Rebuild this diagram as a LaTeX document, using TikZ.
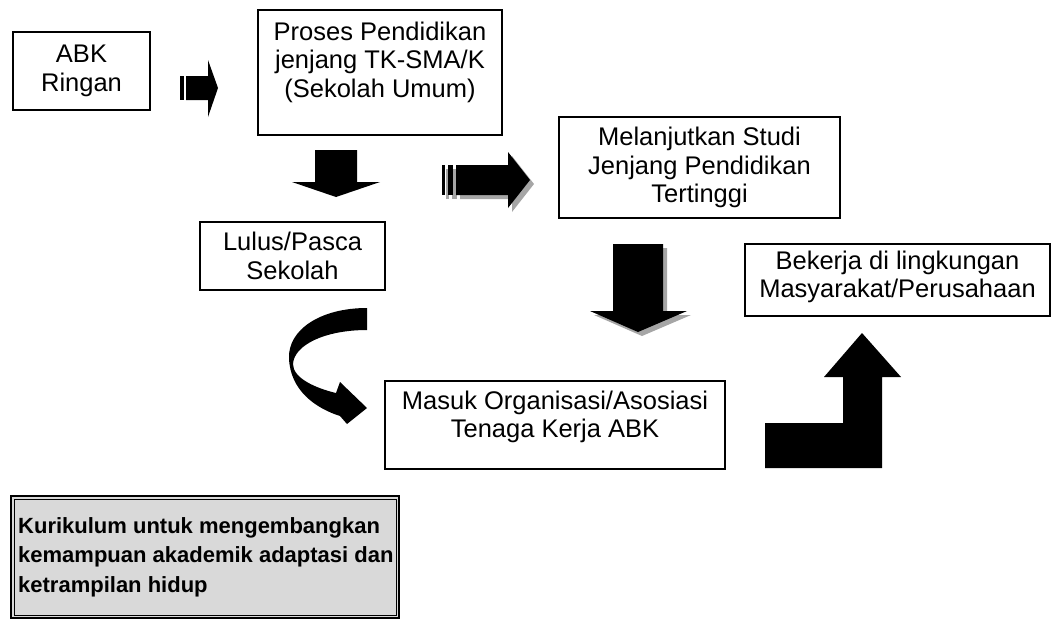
\documentclass[tikz,border=0pt]{standalone}
\usepackage{fontspec}
\setmainfont{Liberation Sans}
\tikzset{box/.style={draw, line width=1.3pt, align=center, inner sep=0pt,
                     font=\fontsize{25.5}{28.5}\selectfont}}
\tikzset{blk/.style={fill=black}}
\tikzset{shade/.style={fill=black!35}}

\begin{document}
\begin{tikzpicture}[x=1pt, y=-1pt,
      % styles for the bottom panel
      kurbox/.style ={draw, line width=2.4pt, fill=black!15, inner sep=0pt},
      kurtext/.style={align=left, inner sep=0pt,
                      font=\fontsize{22}{29.5}\selectfont\bfseries}
    ]
    \useasboundingbox (0,0) rectangle (1051,619);

    % boxes, placed at their centres
    \node[box, minimum width=137, minimum height=78]  (abk)    at (81.5,71)  {ABK\\Ringan};
    \node[box, minimum width=244, minimum height=125] (proses) at (380,72.5) {};
    \node[box, draw=none, anchor=north] (prosesTxt) at ([yshift=-12pt]proses.north)
      {Proses Pendidikan\\jenjang TK-SMA/K\\(Sekolah Umum)};
    \node[box, minimum width=281, minimum height=101] (lanjut) at (699.5,167.5)
      {Melanjutkan Studi\\Jenjang Pendidikan\\Tertinggi};
    \node[box, minimum width=185, minimum height=68]  (lulus)  at (292.5,256) {Lulus/Pasca\\Sekolah};
    \node[box, minimum width=305, minimum height=72]  (kerja)  at (897.5,280) {};
    \node[box, draw=none] (kerjaTxt) at ([yshift=3pt]kerja.center)
      {Bekerja di lingkungan\\Masyarakat/Perusahaan};
    \node[box, minimum width=340, minimum height=88]  (masuk)  at (555,425) {};
    \node[box, draw=none] (masukTxt) at ([yshift=8pt]masuk.center)
      {Masuk Organisasi/Asosiasi\\Tenaga Kerja ABK};

    % bottom panel with double frame
    \node[kurbox, minimum width=388, minimum height=122, anchor=north west] (kurikulum) at (10,495) {};
    \draw[line width=0.8pt] ([shift={(4,4)}]kurikulum.north west) rectangle ([shift={(-4,-4)}]kurikulum.south east);
    \node[kurtext, anchor=north west] (kurTxt) at ([shift={(8,22)}]kurikulum.north west)
      {Kurikulum untuk mengembangkan\\kemampuan akademik adaptasi dan\\ketrampilan hidup};

    % ABK -> proses
    \fill[blk] (180,76) rectangle (184,100);
    \fill[blk] (186,76) -- (208,76) -- (208,60) -- (218,88) -- (208,117) -- (208,100) -- (186,100) -- cycle;

    % proses -> lulus
    \fill[blk] (315,150) -- (357,150) -- (357,182) -- (380,182) -- (336,197)
               -- (292,182) -- (315,182) -- cycle;

    % proses -> lanjut (striped, with shadow)
    \foreach \s/\c in {4/shade, 0/blk}{
      \begin{scope}[shift={(\s,\s)}]
        \fill[\c] (442,165) rectangle (445,195);
        \fill[\c] (448,165) rectangle (453,195);
        \fill[\c] (456,165) -- (508,165) -- (508,152) -- (530,180) -- (508,208)
                  -- (508,195) -- (456,195) -- cycle;
      \end{scope}
    }

    % lanjut -> masuk (with shadow)
    \foreach \s/\c in {4/shade, 0/blk}{
      \fill[\c, shift={(\s,\s)}] (613,244) -- (663,244) -- (663,311) -- (687,311)
        -- (638,332) -- (590,311) -- (613,311) -- cycle;
    }

    % lulus -> masuk
    \fill[blk] (367,308) .. controls (320,308) and (288,330) .. (289,358)
               .. controls (290,390) and (315,408) .. (340,416)
               -- (347,424) -- (367,408) -- (340,382) -- (336,393)
               .. controls (315,388) and (293,378) .. (293,364)
               .. controls (294,345) and (325,330) .. (367,330) -- cycle;

    % masuk -> kerja
    \fill[blk] (765,423) -- (843,423) -- (843,377) -- (824,377) -- (862,333)
               -- (901,377) -- (882,377) -- (882,468) -- (765,468) -- cycle;
  \end{tikzpicture}
\end{document}
